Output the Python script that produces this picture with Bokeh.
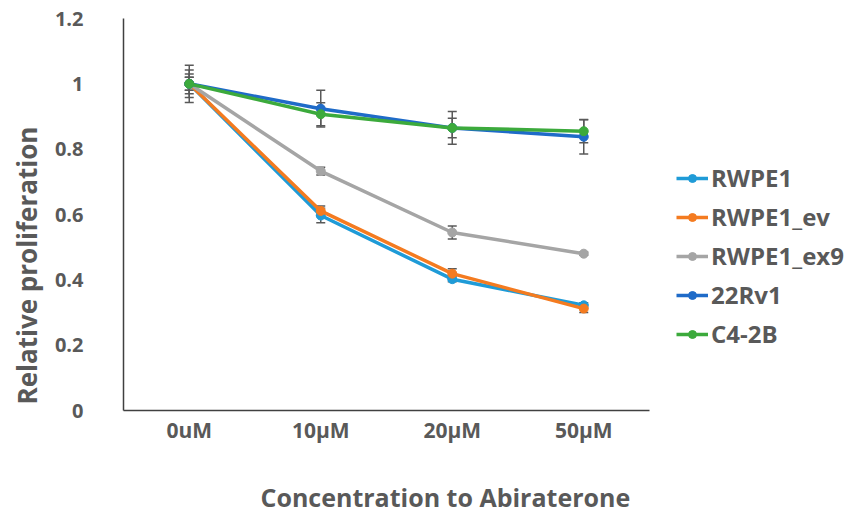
from bokeh.plotting import figure
from bokeh.models import (ColumnDataSource, Whisker, TeeHead, Legend, LegendItem,
                          FixedTicker, FactorRange, Range1d, Title)
from bokeh.embed import file_html
from bokeh.resources import INLINE

categories = ["0uM", "10μM", "20μM", "50μM"]
series_names = ["RWPE1", "RWPE1_ev", "RWPE1_ex9", "22Rv1", "C4-2B"]
rwpe1 = [1.0, 0.597, 0.402, 0.322]
rwpe1_ev = [1.0, 0.611, 0.419, 0.312]
rwpe1_ex9 = [1.0, 0.733, 0.545, 0.480]
rv1_22 = [1.0, 0.924, 0.865, 0.838]
c4_2b = [1.0, 0.907, 0.865, 0.855]
err_rwpe1 = [0.02, 0.022, 0.008, 0.008]
err_rwpe1_ev = [0.02, 0.015, 0.015, 0.012]
err_rwpe1_ex9 = [0.042, 0.012, 0.02, 0.005]
err_22rv1 = [0.057, 0.056, 0.05, 0.053]
err_c4_2b = [0.03, 0.035, 0.03, 0.035]
colors = ["#1F9BD7", "#F47B20", "#A5A5A5", "#1F6BC8", "#3CAA3C"]
y_ticks = [0, 0.2, 0.4, 0.6, 0.8, 1.0, 1.2]
y_tick_labels = ["0", "0.2", "0.4", "0.6", "0.8", "1", "1.2"]
x_title = "Concentration to Abiraterone"
y_title = "Relative proliferation"

values = [rwpe1, rwpe1_ev, rwpe1_ex9, rv1_22, c4_2b]
errors = [err_rwpe1, err_rwpe1_ev, err_rwpe1_ex9, err_22rv1, err_c4_2b]

FONT = "Open Sans"
TXT = "#595959"

p = figure(x_range=FactorRange(*categories, range_padding=0),
           y_range=Range1d(0, 1.2),
           frame_width=526, frame_height=392,
           output_backend="svg", toolbar_location=None,
           min_border_left=121, min_border_right=190, min_border_top=18,
           min_border_bottom=107)
p.outline_line_color = None
p.xgrid.grid_line_color = None
p.ygrid.grid_line_color = None
p.background_fill_color = "white"
p.border_fill_color = "white"

for ax in (p.xaxis[0], p.yaxis[0]):
    ax.major_tick_line_color = None
    ax.minor_tick_line_color = None
    ax.major_tick_out = 0
    ax.major_tick_in = 0
    ax.axis_line_color = "#404040"
    ax.axis_line_width = 1.5
    ax.major_label_text_font = FONT
    ax.major_label_text_font_style = "bold"
    ax.major_label_text_color = TXT
    ax.major_label_text_font_size = "21px"

p.yaxis.ticker = FixedTicker(ticks=y_ticks)
p.yaxis.major_label_overrides = {t: l for t, l in zip(y_ticks, y_tick_labels)}
p.yaxis.major_label_text_font_size = "20px"
p.yaxis.major_label_standoff = 40
p.xaxis.major_label_standoff = 5

xt = Title(text=x_title, align="left", offset=137, standoff=62,
           text_font=FONT, text_font_style="bold", text_color=TXT,
           text_font_size="25px")
p.add_layout(xt, "below")
yt = Title(text=y_title, align="left", offset=6, standoff=13,
           text_font=FONT, text_font_style="bold", text_color=TXT,
           text_font_size="26px")
p.add_layout(yt, "left")

items = []
for name, vals, errs, col in zip(series_names, values, errors, colors):
    src = ColumnDataSource(dict(x=categories, y=vals,
                                upper=[v + e for v, e in zip(vals, errs)],
                                lower=[v - e for v, e in zip(vals, errs)]))
    w = Whisker(base="x", upper="upper", lower="lower", source=src,
                line_color="#595959", line_width=1.5,
                upper_head=TeeHead(size=9, line_color="#595959", line_width=1.5),
                lower_head=TeeHead(size=9, line_color="#595959", line_width=1.5))
    p.add_layout(w)
    l = p.line("x", "y", source=src, line_color=col, line_width=3.5)
    c = p.scatter("x", "y", source=src, size=9, fill_color=col, line_color=col)
    items.append(LegendItem(label=name, renderers=[l, c]))

legend = Legend(items=items, location=(27, 60), orientation="vertical",
                glyph_width=32, glyph_height=20, label_height=20,
                label_standoff=3, spacing=6, padding=0, margin=0,
                border_line_color=None, background_fill_alpha=0,
                label_text_font=FONT, label_text_font_style="bold",
                label_text_color=TXT, label_text_font_size="24px")
p.add_layout(legend, "right")

open("out.html", "w").write(file_html(p, INLINE))
